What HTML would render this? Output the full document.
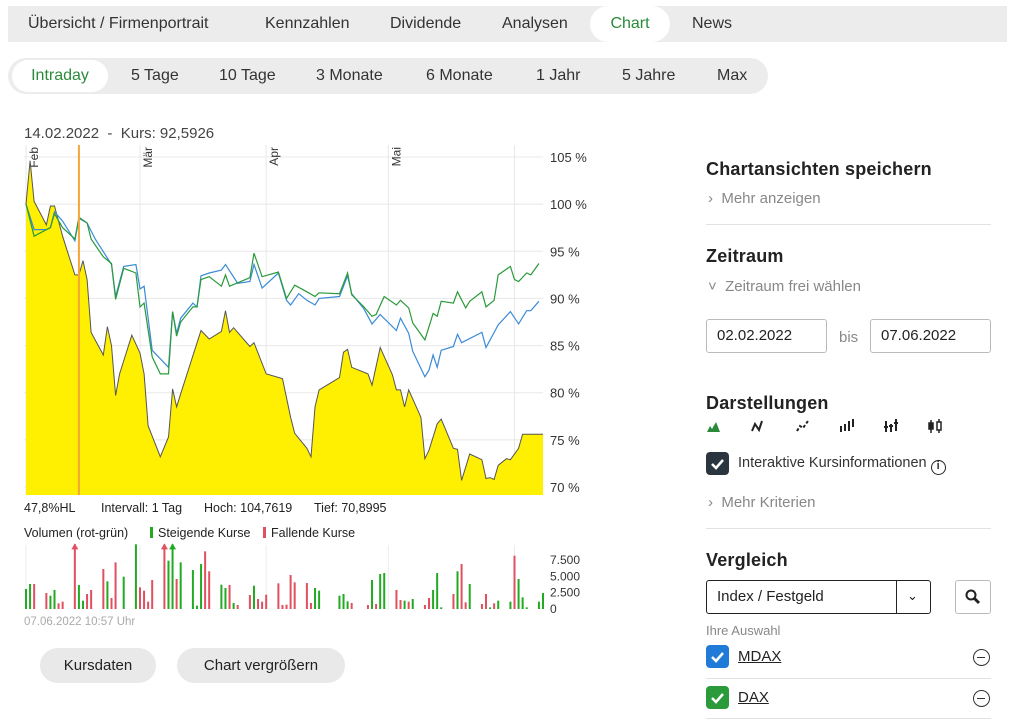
<!DOCTYPE html>
<html><head><meta charset="utf-8">
<style>
*{box-sizing:border-box}
body{margin:0;width:1009px;height:725px;background:#fff;font-family:"Liberation Sans",sans-serif;color:#333;position:relative;overflow:hidden}
.abs{position:absolute}
.tabs{left:8px;top:6px;width:999px;height:36px;background:#ececec}
.tab{position:absolute;top:0;height:36px;line-height:36px;font-size:16px;color:#333}
.pills{left:8px;top:58px;width:760px;height:36px;background:#ececec;border-radius:18px}
.pill{position:absolute;top:0;height:36px;line-height:36px;font-size:16px;color:#333}
.btn{position:absolute;height:35px;line-height:35px;background:#e9e9e9;border-radius:18px;text-align:center;font-size:15px;color:#222}
h3{position:absolute;margin:0;font-size:18px;font-weight:bold;color:#222;letter-spacing:.2px}
.gray{position:absolute;font-size:15px;color:#888}
.hr{position:absolute;left:706px;width:285px;height:1px;background:#e2e2e2}
.inp{position:absolute;height:34px;border:1px solid #bbb;border-radius:3px;line-height:32px;padding-left:10px;font-size:15px;color:#222}
.cb{position:absolute;width:23px;height:23px;border-radius:4px}
.minus{position:absolute;left:973px;width:17px;height:17px;border:1.5px solid #333;border-radius:50%}
.minus:after{content:"";position:absolute;left:3px;top:6.5px;width:8px;height:1.5px;background:#333}
</style></head><body>
<div class="abs tabs">
 <div class="tab" style="left:20px">Übersicht / Firmenportrait</div>
 <div class="tab" style="left:257px">Kennzahlen</div>
 <div class="tab" style="left:382px">Dividende</div>
 <div class="tab" style="left:494px">Analysen</div>
 <div class="tab" style="left:582px;width:80px;background:#fff;border-radius:18px;text-align:center;color:#2a8a3a">Chart</div>
 <div class="tab" style="left:684px">News</div>
</div>
<div class="abs pills">
 <div class="pill" style="left:4px;width:96px;background:#fff;border-radius:18px;text-align:center;color:#2a8a3a;top:2px;height:32px;line-height:32px">Intraday</div>
 <div class="pill" style="left:123px">5 Tage</div>
 <div class="pill" style="left:211px">10 Tage</div>
 <div class="pill" style="left:308px">3 Monate</div>
 <div class="pill" style="left:418px">6 Monate</div>
 <div class="pill" style="left:528px">1 Jahr</div>
 <div class="pill" style="left:614px">5 Jahre</div>
 <div class="pill" style="left:709px">Max</div>
</div>
<div class="abs" style="left:24px;top:125px;font-size:15px;color:#444">14.02.2022 &nbsp;- &nbsp;Kurs: 92,5926</div>

<svg class="abs" style="left:0;top:0" width="700" height="640" id="svg"></svg>

<div class="btn" style="left:40px;top:648px;width:116px">Kursdaten</div>
<div class="btn" style="left:177px;top:648px;width:168px">Chart vergrößern</div>

<h3 style="left:706px;top:159px">Chartansichten speichern</h3>
<div class="gray" style="left:708px;top:190px">›&nbsp; Mehr anzeigen</div>
<div class="hr" style="top:224px"></div>
<h3 style="left:706px;top:246px">Zeitraum</h3>
<div class="gray" style="left:708px;top:278px">˅&nbsp; Zeitraum frei wählen</div>
<div class="inp" style="left:706px;top:319px;width:121px">02.02.2022</div>
<div class="gray" style="left:839px;top:329px;font-size:15px">bis</div>
<div class="inp" style="left:870px;top:319px;width:121px">07.06.2022</div>
<h3 style="left:706px;top:393px">Darstellungen</h3>
<svg class="abs" style="left:700px;top:415px" width="260" height="22">
 <path d="M7 17 L10 11 L12 14 L16 7 L20 17 Z" fill="#2a8a3a"/>
 <path d="M52 16 L55 9 L59 15 L62 6" stroke="#222" stroke-width="2" fill="none"/>
 <path d="M97 16 L100 11 L103 13 L108 6" stroke="#222" stroke-width="2" fill="none" stroke-dasharray="3 2"/>
 <g stroke="#222" stroke-width="2"><path d="M141 11v6M145 9v7M149 6v10M153 4v8"/></g>
 <g stroke="#222" stroke-width="2"><path d="M186 6v11M191 9v8M196 4v12M184 12h4M189 11h4M194 8h4"/></g>
 <g fill="#222" stroke="#222" stroke-width="1.5"><path d="M231 5v13M239 4v14"/><rect x="229" y="8" width="4" height="6"/><rect x="237" y="7" width="4" height="8" fill="#fff"/></g>
</svg>
<div class="cb" style="left:706px;top:452px;background:#2b3540"><svg width="23" height="23"><path d="M6 12l4 4 7-8" stroke="#fff" stroke-width="2.5" fill="none"/></svg></div>
<div class="abs" style="left:738px;top:455px;font-size:14.5px;color:#333">Interaktive Kursinformationen <span style="display:inline-block;width:15px;height:15px;border:1.8px solid #222;border-radius:50%;text-align:center;line-height:11px;font-size:11px;font-weight:bold;vertical-align:-2px">i</span></div>
<div class="gray" style="left:708px;top:494px">›&nbsp; Mehr Kriterien</div>
<div class="hr" style="top:528px"></div>
<h3 style="left:706px;top:550px">Vergleich</h3>
<div class="inp" style="left:706px;top:580px;width:225px;border-color:#222">Index / Festgeld<div style="position:absolute;left:189px;top:0;width:1px;height:32px;background:#222"></div><div style="position:absolute;left:200px;top:-1px;font-size:13px">⌄</div></div>
<div class="abs" style="left:955px;top:580px;width:36px;height:34px;border:1px solid #bbb;border-radius:3px"><svg width="34" height="32"><circle cx="15" cy="14" r="4.5" stroke="#222" stroke-width="2" fill="none"/><path d="M18 17l5 5" stroke="#222" stroke-width="3"/></svg></div>
<div class="gray" style="left:706px;top:623px;font-size:13px">Ihre Auswahl</div>
<div class="cb" style="left:706px;top:645px;background:#1f7ad8"><svg width="23" height="23"><path d="M6 12l4 4 7-8" stroke="#fff" stroke-width="2.5" fill="none"/></svg></div>
<div class="abs" style="left:738px;top:648px;font-size:15px;text-decoration:underline;color:#222">MDAX</div>
<div class="minus" style="top:649px"></div>
<div class="hr" style="top:678px"></div>
<div class="cb" style="left:706px;top:686px;background:#2a9a3a"><svg width="23" height="23"><path d="M6 12l4 4 7-8" stroke="#fff" stroke-width="2.5" fill="none"/></svg></div>
<div class="abs" style="left:738px;top:689px;font-size:15px;text-decoration:underline;color:#222">DAX</div>
<div class="minus" style="top:690px"></div>
<div class="hr" style="top:718px"></div>

<script>
const priceDays=[0,1,2,5,6,7,9,12,13,14,15,16,19,20,21,22,23,26,28,29,30,33,35,36,37,38,43,45,48,49,50,51,55,56,59,63,65,66,69,70,71,72,77,78,79,80,84,85,87,90,91,92,93,94,97,98,99,101,102,105,106,107,109,112,113,114,115,116,118,119,121,122,127];
const priceVals=[100,104.6,100.3,97.8,99.8,99.8,96.6,92.5,92.5,94,92,86.4,84,87,85,79.7,82,86.1,84.2,82,76.5,73.2,75.3,80.4,78.5,79.9,86.6,85.7,86.5,88.7,86.4,86.9,84.9,85.3,82,81.5,77.4,75.7,74.1,73.2,78.5,80.3,81.6,84.3,84.6,82.7,82,80.8,84.8,81.9,80.3,80.3,78.5,80.3,77.4,73,73.9,76.7,77.2,74.1,74,70.7,73.5,72.9,70.9,71,70.8,72.3,73,72.9,74.1,75.6,75.6];
const daxDays=[0,2,5,6,7,9,12,13,15,16,19,21,22,24,27,28,29,31,33,35,36,37,38,41,42,43,45,48,49,50,55,56,58,62,64,66,69,71,72,77,79,80,83,85,86,88,91,92,94,95,98,100,101,102,105,106,108,109,112,113,115,116,119,120,121,123,124,126];
const daxVals=[100,96.6,97.3,97.5,99,97.5,96.3,98.6,98,96.3,94.4,93.7,89.9,93.2,92.7,89.1,89.5,83.8,82,82,88.6,86,87.5,89.1,89.1,92,92.3,91.3,92.5,91.3,92.2,94.8,92.3,92.8,90,91.4,90.7,90.2,90.6,90.5,92.7,90.4,89.1,88.1,88.3,90.2,89.3,89.8,89,87.4,85.6,88.4,88.1,89.7,89.5,90.7,89,89.7,90.7,89.1,89.8,92.5,93.4,92,91.8,92.7,92.5,93.7];
const mdaxDays=[0,2,5,6,7,9,12,13,15,17,21,22,24,27,28,29,31,35,36,37,38,41,42,43,45,48,49,52,55,56,58,62,64,65,67,69,71,72,77,79,80,83,85,87,91,92,94,95,98,99,100,101,102,105,106,107,112,113,116,119,121,123,124,126];
const mdaxVals=[100,97.3,97.3,97.5,99.2,98.2,96.1,98.5,98,96.3,93.6,90.2,93.4,93.6,91,91.3,84.5,82.7,88.6,86.3,87.9,89.5,89.1,92.4,92.7,93,93.6,91.6,91.8,93.6,91.1,92.7,89.8,89.3,90.5,89.8,89.3,90,90.2,92.4,90.5,88.9,87.3,88.3,86.6,87.9,86.3,84.4,81.7,82.4,84,82.7,84.5,84.9,86.2,85.3,86.4,84.8,87.2,88.6,87.3,88.7,88.7,89.7];
const volDays=[0,1,2,5,6,7,8,9,12,13,14,15,16,19,20,21,22,24,27,28,29,30,31,34,35,36,37,38,41,42,43,44,45,48,49,50,51,52,55,56,57,58,59,62,63,64,65,66,69,70,71,72,77,78,79,80,84,85,86,87,88,91,92,93,94,95,98,99,100,101,102,105,106,107,108,109,112,113,114,115,116,119,120,121,122,123,126,127];
const volVals=[3060,3825,3825,2448,2040,2907,867,1122,12000,3672,1275,2295,2907,6120,4233,1683,7140,4947,9900,3315,2805,1122,4437,12000,7395,12000,4590,7140,5967,510,6885,8823,5763,3723,3213,3672,918,612,2142,3570,1530,1122,2193,3927,612,663,5202,4080,3978,918,3213,2805,2040,2295,1173,918,612,4437,765,5355,5508,2907,1377,1275,1122,1530,612,1683,2907,5508,255,2295,5763,6885,1020,3825,765,2295,255,867,1275,1122,8160,4590,1785,255,1122,2448];
const volRising=[1,1,0,0,1,1,0,0,0,1,1,0,0,0,1,0,0,1,1,0,0,0,0,0,1,1,0,1,1,1,1,0,0,1,1,0,1,0,0,1,0,0,0,0,0,0,0,0,0,0,1,1,1,1,1,0,0,1,0,1,1,0,0,1,0,1,0,0,1,1,1,0,1,0,0,1,0,0,1,0,1,1,0,1,1,1,1,1];
const yTicks=[70,75,80,85,90,95,100,105];
const volTicks=[0,2500,5000,7500];
const volTickLabels=["0","2.500","5.000","7.500"];
const monthDays=[0,28,59,89,120];
const monthLabels=["Feb","Mär","Apr","Mai",""];
const cursorDay=13;

const NS="http://www.w3.org/2000/svg",svg=document.getElementById('svg');
const X0=26,X1=543,DMAX=127;
const x=d=>X0+d*(X1-X0)/DMAX;
const y=v=>487-(v-70)*(487-157)/35;
const vy=v=>609-Math.min(v,9900)*49/7500;
function mk(t,a,p){const e=document.createElementNS(NS,t);for(const k in a)e.setAttribute(k,a[k]);(p||svg).appendChild(e);return e;}
yTicks.forEach(t=>{const l=mk('line',{x1:X0-2,x2:X1,y1:y(t),y2:y(t),stroke:'#e8e8e8'});


const tx=mk('text',{x:550,y:y(t)+5,'font-size':13,fill:'#333'});tx.textContent=t+' %';

});
monthDays.forEach((d,i)=>{mk('line',{x1:x(d),x2:x(d),y1:145,y2:495,stroke:'#e8e8e8'});mk('line',{x1:x(d),x2:x(d),y1:545,y2:610,stroke:'#ededed'});
if(monthLabels[i]){const t=mk('text',{transform:`translate(${x(d)+12},${147}) rotate(-90)`,'font-size':12,fill:'#333','text-anchor':'end'});t.textContent=monthLabels[i];

}});
let d='M'+x(priceDays[0])+' 495 '+priceDays.map((dd,i)=>'L'+x(dd).toFixed(1)+' '+y(priceVals[i]).toFixed(1)).join(' ')+' L'+x(priceDays[priceDays.length-1])+' 495Z';
const area=mk('path',{d:d,fill:'#ffef00'});


const pl=mk('path',{d:'M'+priceDays.map((dd,i)=>x(dd).toFixed(1)+' '+y(priceVals[i]).toFixed(1)).join(' L'),fill:'none',stroke:'#555','stroke-width':1});


function line(days,vals,c,n){const p=mk('path',{d:'M'+days.map((dd,i)=>x(dd).toFixed(1)+' '+y(vals[i]).toFixed(1)).join(' L'),fill:'none',stroke:c,'stroke-width':1.2});

}
line(mdaxDays,mdaxVals,'#3a8ad8','mdax-line');
line(daxDays,daxVals,'#2a9a3a','dax-line');
const cur=mk('line',{x1:x(cursorDay),x2:x(cursorDay),y1:145,y2:495,stroke:'#f5a53a','stroke-width':2});


[['47,8%HL',24],['Intervall: 1 Tag',101],['Hoch: 104,7619',204],['Tief: 70,8995',314]].forEach(a=>{const t=mk('text',{x:a[1],y:512,'font-size':12.5,fill:'#222'});t.textContent=a[0];

});
const vt=mk('text',{x:24,y:537,'font-size':12.5,fill:'#222'});vt.textContent='Volumen (rot-grün)';


mk('rect',{x:150,y:527,width:3,height:11,fill:'#22aa22'});
const s1=mk('text',{x:158,y:537,'font-size':12.5,fill:'#222'});s1.textContent='Steigende Kurse';


mk('rect',{x:263,y:527,width:3,height:11,fill:'#e05060'});
const s2=mk('text',{x:271,y:537,'font-size':12.5,fill:'#222'});s2.textContent='Fallende Kurse';


volTicks.forEach((t,i)=>{const tx=mk('text',{x:550,y:vy(t)+4,'font-size':12,fill:'#333'});tx.textContent=volTickLabels[i];

});
volDays.forEach((dd,i)=>{const c=volRising[i]?'#22aa22':'#e05060';const b=mk('rect',{x:x(dd)-1,y:vy(volVals[i]),width:2,height:609-vy(volVals[i]),fill:c});


if(volVals[i]>9900){const a=mk('path',{d:`M${x(dd)-3.5} ${vy(volVals[i])+5} L${x(dd)} ${vy(volVals[i])-1} L${x(dd)+3.5} ${vy(volVals[i])+5}Z`,fill:c});

}});
const ts=mk('text',{x:24,y:625,'font-size':11.5,fill:'#aaa'});ts.textContent='07.06.2022 10:57 Uhr';


</script>
</body></html>
